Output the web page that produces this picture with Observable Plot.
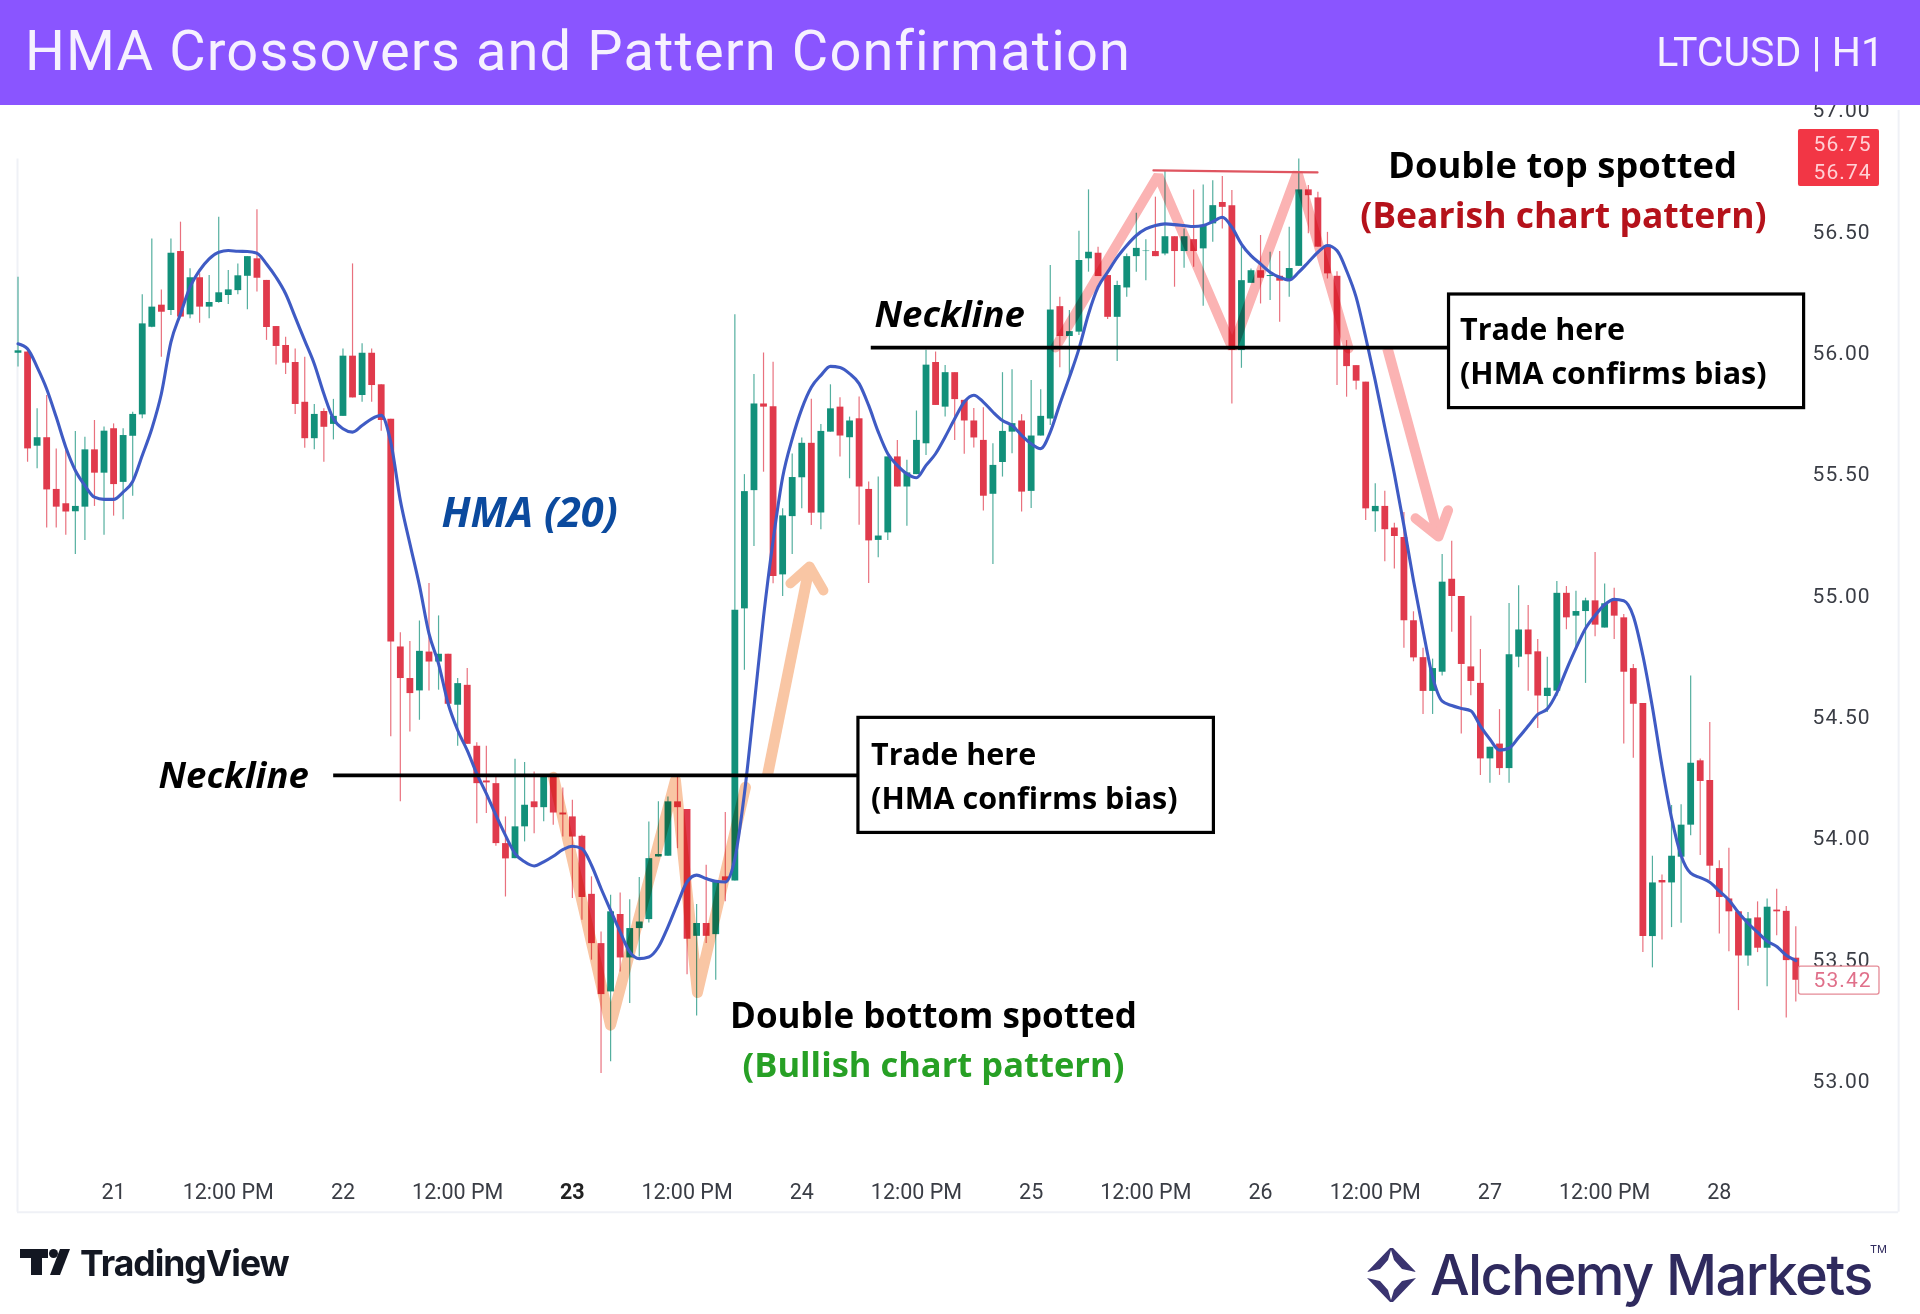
<!DOCTYPE html>
<html><head><meta charset="utf-8">
<script src="https://cdn.jsdelivr.net/npm/d3@7"></script>
<script src="https://cdn.jsdelivr.net/npm/@observablehq/plot@0.6"></script>
<style>
html,body{margin:0;padding:0;background:#fff;width:1920px;height:1314px;overflow:hidden;position:relative}
#chart{position:absolute;left:0;top:0}
#head{position:absolute;left:0;top:0;width:1920px;height:105px;background:#8A55FF;color:#F6F1FF;font-family:Roboto,sans-serif}
#head .t{position:absolute;left:25px;top:18px;font-size:56px;line-height:66px;letter-spacing:1.12px;white-space:nowrap}
#head .r{position:absolute;right:36px;top:27px;font-size:41px;line-height:50px;white-space:nowrap}
.abs{position:absolute;white-space:nowrap}
</style></head><body>
<div id="chart"></div>
<div id="head"><div class="t">HMA Crossovers and Pattern Confirmation</div><div class="r">LTCUSD | H1</div></div>
<div class="abs" style="left:20px;top:1249px;width:28px;height:9px;background:#131722"></div>
<div class="abs" style="left:31px;top:1258px;width:11px;height:17px;background:#131722"></div>
<div class="abs" style="left:49px;top:1249px;width:9px;height:9px;border-radius:50%;background:#131722"></div>
<div class="abs" style="left:50px;top:1249px;width:20px;height:26px;background:#131722;clip-path:polygon(10px 0,20px 0,10px 26px,0 26px)"></div>
<div class="abs" style="left:80px;top:1242px;font:700 35.5px/44px Inter,sans-serif;letter-spacing:-1px;color:#131722">TradingView</div>
<div class="abs" style="left:1367px;top:1248px;width:49px;height:24px;background:#3A3470;clip-path:polygon(23px 0,0 24px,13px 21px,21px 12px,24px 2px,27px 12px,35px 21px,49px 24px,26px 0)"></div>
<div class="abs" style="left:1367px;top:1278px;width:49px;height:24px;background:#3A3470;clip-path:polygon(0 0,13px 3px,21px 12px,24px 22px,27px 12px,35px 3px,49px 0,26px 24px,23px 24px)"></div>
<div class="abs" style="left:1430px;top:1241px;font:500 56px/68px Inter,sans-serif;letter-spacing:-1.6px;color:#2F2A5E">Alchemy Markets</div>
<div class="abs" style="left:1870px;top:1242px;font:400 11px/14px Inter,sans-serif;color:#2F2A5E">TM</div>
<script>
const opens=[56.000,56.005,55.617,55.652,55.439,55.380,55.347,55.366,55.602,55.506,55.689,55.468,55.658,55.746,56.107,56.198,56.176,56.419,56.158,56.311,56.190,56.209,56.238,56.258,56.317,56.389,56.300,56.110,56.032,55.962,55.798,55.648,55.760,55.707,55.740,55.988,55.826,56.000,55.870,55.728,54.790,54.660,54.609,54.769,54.728,54.760,54.550,54.632,54.381,54.238,54.227,53.980,53.918,54.049,54.152,54.128,54.255,54.106,54.090,54.010,53.771,53.568,53.369,53.688,53.509,53.630,53.667,53.925,53.928,54.152,54.120,53.598,53.651,53.605,53.843,53.826,54.947,55.434,55.791,55.780,55.087,55.327,55.487,55.629,55.342,55.675,55.778,55.652,55.730,55.439,55.229,55.260,55.573,55.449,55.500,55.627,55.962,55.778,55.920,55.806,55.721,55.641,55.419,55.550,55.675,55.721,55.431,55.659,55.729,56.192,56.069,56.087,56.389,56.412,56.320,56.148,56.269,56.398,56.419,56.419,56.409,56.480,56.419,56.468,56.430,56.533,56.621,56.608,56.011,56.288,56.340,56.316,56.317,56.300,56.358,56.673,56.640,56.437,56.317,56.018,55.949,55.881,55.347,55.369,55.280,55.241,54.898,54.746,54.607,54.686,55.069,54.998,54.708,54.640,54.329,54.390,54.289,54.748,54.860,54.770,54.586,54.608,55.011,54.917,54.936,54.980,54.868,54.983,54.910,54.701,54.557,53.597,53.828,53.818,53.924,54.056,54.321,54.240,53.877,53.752,53.699,53.517,53.674,53.549,53.706,53.701,53.508];
const closes=[56.010,55.606,55.652,55.437,55.366,55.346,55.369,55.602,55.506,55.679,55.459,55.661,55.748,56.121,56.190,56.169,56.412,56.149,56.311,56.190,56.209,56.249,56.261,56.319,56.398,56.309,56.106,56.028,55.959,55.789,55.648,55.748,55.695,55.740,55.988,55.816,56.000,55.867,55.723,54.810,54.660,54.598,54.772,54.728,54.760,54.554,54.639,54.389,54.227,54.230,53.980,53.917,54.049,54.138,54.128,54.255,54.106,54.098,54.007,53.758,53.568,53.358,53.699,53.509,53.630,53.657,53.918,53.935,54.152,54.128,53.586,53.651,53.598,53.822,53.826,54.941,55.430,55.791,55.778,55.080,55.330,55.488,55.629,55.341,55.678,55.771,55.659,55.721,55.449,55.227,55.247,55.573,55.449,55.507,55.641,55.951,55.785,55.920,55.809,55.721,55.651,55.411,55.538,55.678,55.710,55.428,55.659,55.740,56.178,56.069,56.089,56.382,56.416,56.316,56.148,56.279,56.398,56.432,56.421,56.398,56.480,56.419,56.480,56.419,56.526,56.608,56.601,56.011,56.299,56.340,56.309,56.320,56.297,56.349,56.673,56.649,56.437,56.327,56.018,55.945,55.885,55.359,55.369,55.273,55.245,54.898,54.745,54.607,54.701,55.057,54.998,54.718,54.648,54.329,54.377,54.289,54.758,54.860,54.758,54.588,54.620,55.011,54.910,54.936,54.980,54.880,54.968,54.917,54.686,54.554,53.597,53.818,53.818,53.928,54.056,54.311,54.236,53.887,53.758,53.699,53.517,53.670,53.549,53.718,53.699,53.498,53.417];
const highs=[56.313,56.018,55.771,55.826,55.606,55.606,55.678,55.654,55.723,55.696,55.709,55.689,55.757,56.241,56.471,56.261,56.471,56.540,56.348,56.327,56.320,56.560,56.341,56.368,56.398,56.591,56.300,56.110,56.066,56.018,55.984,55.789,55.771,55.810,56.018,56.368,56.039,56.018,55.870,55.728,54.849,54.813,54.897,55.051,54.918,54.760,54.660,54.701,54.395,54.381,54.255,54.090,54.327,54.314,54.275,54.261,54.255,54.209,54.159,54.014,53.843,53.616,53.767,53.777,53.749,53.840,54.069,54.152,54.172,54.255,54.120,53.729,53.891,53.822,54.108,56.159,55.500,55.912,56.001,55.963,55.359,55.585,55.651,55.810,55.707,55.870,55.817,55.737,55.820,55.470,55.490,55.573,55.641,55.559,55.762,56.012,56.005,55.950,55.920,55.806,55.772,55.776,55.627,55.920,55.932,55.747,55.888,55.850,56.361,56.231,56.176,56.503,56.673,56.437,56.320,56.297,56.409,56.577,56.468,56.643,56.750,56.480,56.512,56.673,56.693,56.711,56.728,56.670,56.450,56.347,56.485,56.416,56.419,56.519,56.800,56.691,56.663,56.498,56.336,56.052,55.949,55.881,55.462,55.432,55.300,55.344,54.935,54.785,54.740,55.171,55.226,54.998,54.917,54.780,54.377,54.532,54.969,55.042,54.961,54.821,54.748,55.060,55.039,55.020,54.991,55.179,55.049,55.032,54.924,54.718,54.557,53.928,53.851,54.137,54.140,54.670,54.329,54.479,53.909,53.961,53.699,53.696,53.740,53.752,53.792,53.721,53.637];
const lows=[55.943,55.551,55.524,55.280,55.280,55.250,55.171,55.229,55.369,55.250,55.329,55.314,55.411,55.730,56.105,55.984,56.155,56.149,56.142,56.124,56.142,56.206,56.201,56.241,56.179,56.252,56.053,55.952,55.912,55.748,55.609,55.602,55.551,55.643,55.740,55.816,55.798,55.798,55.679,54.420,54.152,54.440,54.488,54.609,54.612,54.554,54.381,54.389,54.062,54.104,53.969,53.760,53.918,53.987,54.021,54.070,54.056,54.007,53.754,53.664,53.500,53.033,53.081,53.451,53.321,53.513,53.653,53.925,53.928,53.959,53.440,53.270,53.568,53.417,53.740,53.826,54.694,55.204,55.510,55.050,54.998,55.171,55.359,55.290,55.273,55.675,55.573,55.483,55.291,55.051,55.158,55.229,55.449,55.287,55.500,55.579,55.785,55.737,55.641,55.584,55.610,55.350,55.130,55.490,55.586,55.346,55.360,55.659,55.702,55.940,55.894,56.073,56.334,56.316,56.139,55.966,56.231,56.334,56.299,56.398,56.402,56.272,56.350,56.354,56.194,56.457,56.512,55.791,55.938,56.288,56.203,56.217,56.128,56.231,56.358,56.492,56.437,56.306,55.867,55.819,55.849,55.311,55.263,55.141,55.111,54.785,54.729,54.512,54.512,54.670,54.851,54.432,54.589,54.261,54.229,54.261,54.229,54.704,54.608,54.454,54.520,54.586,54.861,54.785,54.640,54.832,54.868,54.821,54.390,54.332,53.531,53.468,53.583,53.634,53.652,54.012,53.931,53.828,53.608,53.534,53.292,53.475,53.531,53.390,53.600,53.262,53.328];
const hmaValues=[56.039,56.018,55.943,55.853,55.737,55.613,55.517,55.455,55.407,55.398,55.398,55.428,55.472,55.579,55.689,55.833,56.046,56.162,56.272,56.341,56.389,56.416,56.423,56.420,56.419,56.412,56.368,56.313,56.245,56.149,56.052,55.956,55.833,55.730,55.689,55.675,55.702,55.730,55.744,55.634,55.394,55.216,55.044,54.845,54.721,54.557,54.447,54.364,54.268,54.186,54.097,54.014,53.939,53.905,53.888,53.905,53.928,53.955,53.969,53.959,53.891,53.795,53.705,53.616,53.534,53.506,53.513,53.554,53.637,53.733,53.822,53.850,53.836,53.825,53.822,53.918,54.186,54.543,54.914,55.228,55.489,55.647,55.771,55.860,55.909,55.946,55.941,55.916,55.875,55.785,55.676,55.586,55.538,55.503,55.487,55.538,55.586,55.655,55.730,55.799,55.827,55.799,55.758,55.723,55.703,55.662,55.627,55.607,55.675,55.791,55.901,56.018,56.162,56.272,56.334,56.395,56.444,56.485,56.512,56.526,56.533,56.530,56.526,56.522,56.526,56.542,56.560,56.519,56.450,56.402,56.368,56.334,56.313,56.302,56.334,56.375,56.416,56.444,56.423,56.340,56.231,56.066,55.887,55.695,55.503,55.290,55.064,54.858,54.667,54.567,54.549,54.537,54.527,54.464,54.410,54.365,54.373,54.417,54.464,54.512,54.535,54.601,54.696,54.785,54.866,54.920,54.964,54.986,54.980,54.917,54.755,54.542,54.299,54.086,53.931,53.858,53.840,53.821,53.784,53.748,53.696,53.652,53.615,53.578,53.556,53.520,53.498];

const priceTicks=[53,53.5,54,54.5,55,55.5,56,56.5,57];
const dayLabels=[21,22,24,25,26,27,28];
const boldDay=23;
const noonLabel="12:00 PM";

const doubleTopPath=[[108.45,56.024],[119.2,56.732],[126.96,56.02],[133.75,56.745],[139.1,56.02]];
const doubleBottomPath=[[55.98,54.253],[61.94,53.232],[68.73,54.241],[71.03,53.367],[76.05,54.212]];
const upArrowShaft=[[78.35,54.261],[82.74,55.122]];
const upArrowHead=[[80.75,55.052],[82.74,55.122],[84.2,55.023]];
const downArrowShaft=[[143.16,56.02],[148.5,55.245]];
const downArrowHead=[[146.1,55.32],[148.5,55.245],[149.5,55.353]];
const peakLine=[[118.7,56.753],[135.85,56.745]];
const necklines=[{a:33,b:87.86,p:54.261},{a:89.2,b:149.6,p:56.023}];
const boxes=[{a:87.86,b:125.02,p1:54.498,p2:54.024},{a:149.6,b:186.72,p1:56.242,p2:55.774}];
const boxText=[{i:89.18,p:54.352,s:"Trade here"},{i:89.18,p:54.17,s:"(HMA confirms bias)"},{i:150.75,p:56.102,s:"Trade here"},{i:150.75,p:55.921,s:"(HMA confirms bias)"}];
const necklineText=[{i:14.69,p:54.265,s:"Neckline"},{i:89.54,p:56.164,s:"Neckline"}];
const hmaText=[{i:44.27,p:55.345,s:"HMA (20)"}];
const topHead=[{i:161.46,p:56.778,s:"Double top spotted"}];
const topSub=[{i:161.56,p:56.568,s:"(Bearish chart pattern)"}];
const bottomHead=[{i:95.7,p:53.273,s:"Double bottom spotted"}];
const bottomSub=[{i:95.7,p:53.07,s:"(Bullish chart pattern)"}];
const askBidTag={a:186.13,b:194.6,p1:56.922,p2:56.687};
const askBidText=[{i:187.7,p:56.86,s:"56.75"},{i:187.7,p:56.745,s:"56.74"}];
const lastTag={a:186.19,b:194.6,p1:53.473,p2:53.358};
const lastText=[{i:187.7,p:53.417,s:"53.42"}];
const panel={left:-0.05,right:196.6,bottom:52.461,topLeft:56.8,topRight:57};

const t0=Date.UTC(2024,0,20,14);
const hourAt=i=>new Date(t0+i*3600e3);
const at=i=>hourAt(i*1.0008);
const dayAt=d=>new Date(Date.UTC(2024,0,d));
const noons=d3.range(21,28).map(d=>new Date(Date.UTC(2024,0,d,12)));
const candles=opens.map((o,i)=>({i,t:hourAt(i),o,c:closes[i],h:highs[i],l:lows[i],up:closes[i]>=o}));
const hma=hmaValues.map((v,i)=>({t:hourAt(i),v}));
const pts=a=>a.map(([i,p])=>({t:at(i),p}));
const UP="#12907A",DOWN="#E03A4C",AXIS="#3a3d45",FF="'Open Sans',sans-serif",AF="Roboto,sans-serif";
const labels=(rows,o)=>Plot.text(rows,{x:d=>at(d.i),y:"p",text:"s",fontFamily:FF,dy:1.5,...o});
const tagBox=(b,o)=>Plot.rect([b],{x1:d=>at(d.a),x2:d=>at(d.b),y1:"p1",y2:"p2",rx:2,...o});

const plot=Plot.plot({
  width:1920,height:1216,marginTop:0,marginLeft:0,marginRight:108,marginBottom:45,
  style:{background:"transparent",overflow:"visible"},
  x:{type:"utc",domain:[hourAt(0),hourAt(186)],range:[17.5,1795.3],label:null},
  y:{domain:[53,57],range:[1081,110],label:null},
  marks:[
    Plot.ruleX([panel],{x:d=>at(d.left),y1:d=>d.topLeft,y2:d=>d.bottom,stroke:"#EFF1F6",strokeWidth:2}),
    Plot.ruleX([panel],{x:d=>at(d.right),y1:d=>d.topRight,y2:d=>d.bottom,stroke:"#EFF1F6",strokeWidth:2}),
    Plot.ruleY([panel],{y:"bottom",x1:d=>at(d.left),x2:d=>at(d.right),stroke:"#EFF1F6",strokeWidth:2}),
    Plot.axisY({anchor:"right",ticks:priceTicks,tickFormat:d3.format(".2f"),tickSize:0,tickPadding:0,fontSize:21,fontFamily:AF,color:AXIS,label:null}),
    Plot.axisX({anchor:"bottom",ticks:dayLabels.map(dayAt),tickFormat:d=>String(d.getUTCDate()),tickSize:0,tickPadding:12,fontSize:21.5,fontFamily:AF,color:AXIS,label:null}),
    Plot.axisX({anchor:"bottom",ticks:[dayAt(boldDay)],tickFormat:d=>String(d.getUTCDate()),tickSize:0,tickPadding:12,fontSize:21.5,fontWeight:700,fontFamily:AF,color:"#222",label:null}),
    Plot.axisX({anchor:"bottom",ticks:noons,tickFormat:()=>noonLabel,tickSize:0,tickPadding:12,fontSize:21.5,fontFamily:AF,color:AXIS,label:null}),
    Plot.ruleX(candles,{x:"t",y1:"l",y2:"h",stroke:d=>d.up?UP:DOWN,strokeOpacity:.72,strokeWidth:1.2}),
    Plot.ruleX(candles,{x:"t",y1:"o",y2:"c",stroke:d=>d.up?UP:DOWN,strokeWidth:6.8}),
    Plot.line(pts(doubleTopPath),{x:"t",y:"p",stroke:"#FBB3B3",strokeWidth:10,strokeLinejoin:"miter",mixBlendMode:"multiply"}),
    Plot.line(pts(doubleBottomPath),{x:"t",y:"p",stroke:"#F9C6A4",strokeWidth:11,strokeLinejoin:"round",strokeLinecap:"round",mixBlendMode:"multiply"}),
    Plot.line(pts(upArrowShaft),{x:"t",y:"p",stroke:"#F9C6A4",strokeWidth:11,strokeLinecap:"butt"}),
    Plot.line(pts(upArrowHead),{x:"t",y:"p",stroke:"#F9C6A4",strokeWidth:10,strokeLinejoin:"round",strokeLinecap:"round"}),
    Plot.line(pts(downArrowShaft),{x:"t",y:"p",stroke:"#FBB3B3",strokeWidth:10.5,strokeLinecap:"butt"}),
    Plot.line(pts(downArrowHead),{x:"t",y:"p",stroke:"#FBB3B3",strokeWidth:10,strokeLinejoin:"round",strokeLinecap:"round"}),
    Plot.line(pts(peakLine),{x:"t",y:"p",stroke:"#DF5560",strokeWidth:2.2}),
    Plot.line(hma,{x:"t",y:"v",stroke:"#3F5BC4",strokeWidth:3.1,curve:"monotone-x"}),
    Plot.ruleY(necklines,{y:"p",x1:d=>at(d.a),x2:d=>at(d.b),stroke:"#000",strokeWidth:3.6}),
    Plot.rect(boxes,{x1:d=>at(d.a),x2:d=>at(d.b),y1:"p1",y2:"p2",fill:"#fff",stroke:"#000",strokeWidth:3.2}),
    labels(boxText,{textAnchor:"start",fontSize:30.5,fontWeight:700,fill:"#000"}),
    labels(necklineText,{textAnchor:"start",fontSize:36.5,fontWeight:700,fontStyle:"italic",fill:"#000"}),
    labels(hmaText,{textAnchor:"start",fontSize:41.5,fontWeight:700,fontStyle:"italic",fill:"#0B4A9E"}),
    labels(topHead,{textAnchor:"middle",fontSize:36.4,fontWeight:700,fill:"#000"}),
    labels(topSub,{textAnchor:"middle",fontSize:35.5,fontWeight:700,fill:"#B5121B"}),
    labels(bottomHead,{textAnchor:"middle",fontSize:35,fontWeight:700,fill:"#000"}),
    labels(bottomSub,{textAnchor:"middle",fontSize:34.5,fontWeight:700,fill:"#27A025"}),
    tagBox(askBidTag,{fill:"#F23645"}),
    tagBox(lastTag,{fill:"#fff",stroke:"#E58A96",strokeWidth:1.3}),
    labels(askBidText,{textAnchor:"start",fontFamily:AF,fontSize:21,dy:0,fill:"#FFD0D5"}),
    labels(lastText,{textAnchor:"start",fontFamily:AF,fontSize:21,dy:0,fill:"#E0708A"})
  ]
});
d3.select(plot).selectAll("text").filter(function(){return /^\d\d\.\d\d$/.test(this.textContent)}).style("letter-spacing","1.1px");
document.getElementById("chart").appendChild(plot);
</script>
</body></html>
